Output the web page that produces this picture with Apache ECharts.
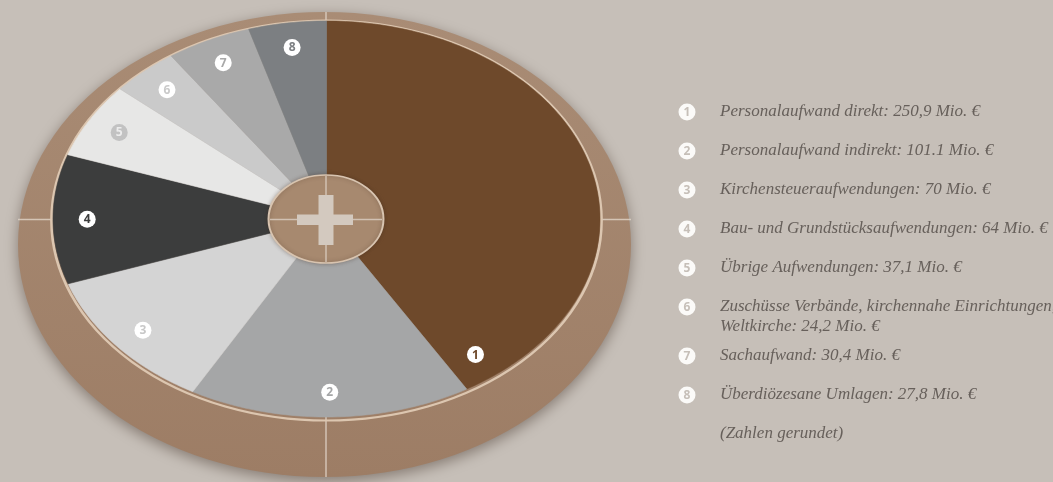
<!DOCTYPE html>
<html><head><meta charset="utf-8">
<script src="https://cdn.jsdelivr.net/npm/echarts@6/dist/echarts.min.js"></script>
<style>html,body{margin:0;padding:0;background:#c6bfb8}#c{width:1053px;height:482px}</style>
</head><body><div id="c"></div>
<script>
// ---- data ----
const categories = [
  'Personalaufwand direkt',
  'Personalaufwand indirekt',
  'Kirchensteueraufwendungen',
  'Bau- und Grundstücksaufwendungen',
  'Übrige Aufwendungen',
  'Zuschüsse Verbände, kirchennahe Einrichtungen,\nWeltkirche',
  'Sachaufwand',
  'Überdiözesane Umlagen'
];
const values = [250.9, 101.1, 70, 64, 37.1, 24.2, 30.4, 27.8];
const valueLabels = ['250,9', '101.1', '70', '64', '37,1', '24,2', '30,4', '27,8'];
const unit = 'Mio. €';
const footnote = '(Zahlen gerundet)';

// ---- styles ----
const BG = '#c6bfb8';
const sliceColors = ['#6e492b', '#a5a6a7', '#d4d4d4', '#3c3d3d', '#e7e7e6', '#cacaca', '#a9a9a9', '#7c7f82'];
const badgeFill = ['#ffffff', '#ffffff', '#ffffff', '#ffffff', '#c2c2c2', '#ffffff', '#ffffff', '#ffffff'];
const digitFill = ['#6e492b', '#a5a6a7', '#c8c8c8', '#3c3d3d', '#ececec', '#cacaca', '#a9a9a9', '#7c7f82'];
const labelRadius = 0.875;
const labelAngleOverride = {0: 141.5};

const total = values.reduce((a, b) => a + b, 0);
const startAngles = [], endAngles = [];
let acc = 0;
values.forEach(v => { startAngles.push(acc / total * 360); acc += v; endAngles.push(acc / total * 360); });

function renderItem(params, api) {
  const i = params.dataIndex;
  const a0 = startAngles[i], a1 = endAngles[i];
  const pts = [api.coord([0, 0])];
  const steps = Math.max(2, Math.ceil(a1 - a0));
  for (let k = 0; k <= steps; k++) {
    const a = (a0 + (a1 - a0) * k / steps) * Math.PI / 180;
    pts.push(api.coord([Math.sin(a), Math.cos(a)]));
  }
  const la = ((labelAngleOverride[i] !== undefined) ? labelAngleOverride[i] : (a0 + a1) / 2) * Math.PI / 180;
  const lp = api.coord([labelRadius * Math.sin(la), labelRadius * Math.cos(la)]);
  return {
    type: 'group',
    children: [
      {type: 'polygon', shape: {points: pts}, style: {fill: sliceColors[i], stroke: sliceColors[i], lineWidth: 0.6}},
      {type: 'circle', z2: 5, shape: {cx: lp[0], cy: lp[1], r: 8.5}, style: {fill: badgeFill[i]}},
      {type: 'text', z2: 6, style: {text: String(i + 1), x: lp[0], y: lp[1] + 0.5, align: 'center', verticalAlign: 'middle',
        fill: digitFill[i], font: 'bold 12px "Open Sans"'}}
    ]
  };
}

// geometry of decoration
const pie = {cx: 326.5, cy: 219, rx: 273.5, ry: 198};
function ellipse(cx, cy, rx, ry, style, z, extra) {
  return Object.assign({type: 'circle', x: cx, y: cy, scaleX: rx / ry, shape: {cx: 0, cy: 0, r: ry}, style: style, z: z, silent: true}, extra || {});
}

const graphics = [];
// rim
graphics.push(ellipse(324.5, 244.5, 306.5, 232.5, {
  fill: {type: 'linear', x: 0, y: 0, x2: 0, y2: 1, colorStops: [{offset: 0, color: '#a98c75'}, {offset: 1, color: '#9d7d65'}]},
  shadowBlur: 14, shadowColor: 'rgba(70,55,45,0.5)', shadowOffsetY: 4
}, 0));
// rim cross lines
graphics.push({type: 'line', z: 1, silent: true, shape: {x1: 326, y1: 12, x2: 326, y2: 477}, style: {stroke: 'rgba(225,212,200,0.8)', lineWidth: 1.5}});
graphics.push({type: 'line', z: 1, silent: true, shape: {x1: 18, y1: 219.5, x2: 631, y2: 219.5}, style: {stroke: 'rgba(225,212,200,0.8)', lineWidth: 1.5}});
// pie edge highlight
graphics.push(ellipse(pie.cx, pie.cy + 1.5, pie.rx + 1.5, pie.ry + 2, {fill: 'none', stroke: '#dcc6b0', lineWidth: 2}, 1));
// hub
graphics.push(ellipse(326, 219, 57.5, 44, {fill: '#a7896f', stroke: '#d8c4b0', lineWidth: 1.5,
  shadowBlur: 4, shadowColor: 'rgba(60,40,30,0.35)'}, 10));
graphics.push({type: 'line', z: 11, silent: true, shape: {x1: 270, y1: 219.5, x2: 382, y2: 219.5}, style: {stroke: 'rgba(220,208,196,0.8)', lineWidth: 1.5}});
graphics.push({type: 'line', z: 11, silent: true, shape: {x1: 326, y1: 176, x2: 326, y2: 262}, style: {stroke: 'rgba(220,208,196,0.8)', lineWidth: 1.5}});
graphics.push({type: 'rect', z: 12, silent: true, shape: {x: 318.5, y: 195, width: 15, height: 50}, style: {fill: '#d3c9bf'}});
graphics.push({type: 'rect', z: 12, silent: true, shape: {x: 297, y: 214.5, width: 56, height: 10.5}, style: {fill: '#d3c9bf'}});

// legend
const legX = 687, textX = 720, legY0 = 112, pitch = 39, extraAfter6 = 10;
const textFont = 'italic 17px "Liberation Serif"';
const textColor = '#67605b';
categories.forEach((name, i) => {
  const y = legY0 + pitch * i + (i > 5 ? extraAfter6 : 0);
  graphics.push({type: 'circle', z: 20, silent: true, shape: {cx: legX, cy: y, r: 8.5}, style: {fill: '#fbfaf8'}});
  graphics.push({type: 'text', z: 21, silent: true, style: {text: String(i + 1), x: legX, y: y + 0.5, align: 'center', verticalAlign: 'middle',
    fill: BG, font: 'bold 12px "Open Sans"'}});
  graphics.push({type: 'text', z: 21, silent: true, style: {text: name + ': ' + valueLabels[i] + ' ' + unit, x: textX, y: y - 10,
    align: 'left', verticalAlign: 'top', lineHeight: 20, fill: textColor, font: textFont}});
});
graphics.push({type: 'text', z: 21, silent: true, style: {text: footnote, x: textX, y: legY0 + pitch * 8 + extraAfter6 - 10,
  align: 'left', verticalAlign: 'top', lineHeight: 20, fill: textColor, font: textFont}});

const chart = echarts.init(document.getElementById('c'), null, {renderer: 'canvas'});
chart.setOption({
  backgroundColor: BG,
  animation: false,
  grid: {left: pie.cx - pie.rx, top: pie.cy - pie.ry, width: pie.rx * 2, height: pie.ry * 2},
  xAxis: {type: 'value', min: -1, max: 1, show: false},
  yAxis: {type: 'value', min: -1, max: 1, show: false},
  graphic: {elements: graphics},
  series: [{
    type: 'custom',
    name: 'Aufwendungen',
    coordinateSystem: 'cartesian2d',
    clip: false,
    z: 5,
    renderItem: renderItem,
    data: values.map((v, i) => ({name: categories[i], value: [0, 0, v]}))
  }]
});
</script>
</body></html>
